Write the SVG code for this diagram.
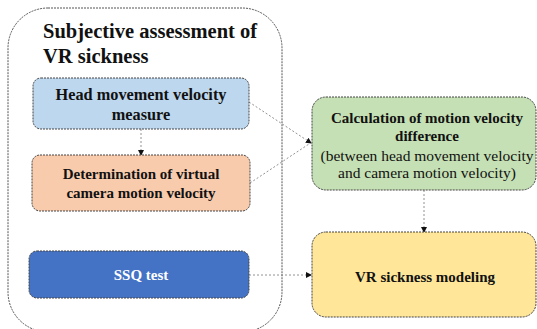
<svg xmlns="http://www.w3.org/2000/svg" width="537" height="329" viewBox="0 0 537 329">
<defs>
<marker id="ah" markerWidth="6" markerHeight="6" refX="5" refY="3" orient="auto" markerUnits="userSpaceOnUse">
<path d="M0,0 L6,3 L0,6 z" fill="#111"/>
</marker>
<style>
.box{stroke:#444;stroke-width:1;stroke-dasharray:2 1}
.lblb{font-family:'Liberation Serif',serif;font-weight:bold;font-size:15px;fill:#111;text-anchor:middle}
.lbln{font-family:'Liberation Serif',serif;font-size:15.5px;fill:#111;text-anchor:middle}
.c{fill:none;stroke:#777;stroke-width:0.8;stroke-dasharray:2 2}
.a{marker-end:url(#ah)}
</style>
</defs>
<rect width="537" height="329" fill="#fff"/>
<g id="container">
<rect x="8" y="8" width="274" height="324" rx="40" fill="none" stroke="#555" stroke-width="1" stroke-dasharray="2 1"/>
<text x="43" y="38" font-family="Liberation Serif, serif" font-weight="bold" font-size="20.5" fill="#111">Subjective assessment of</text>
<text x="43" y="63" font-family="Liberation Serif, serif" font-weight="bold" font-size="20.5" fill="#111">VR sickness</text>
</g>
<g id="connectors">
<line class="c a" x1="141" y1="129" x2="141" y2="155"/>
<line class="c a" x1="249" y1="102" x2="311" y2="143"/>
<line class="c" x1="250" y1="183" x2="309" y2="144"/>
<line class="c a" x1="424" y1="190" x2="424" y2="232"/>
<line class="c a" x1="249" y1="275" x2="311" y2="275"/>
</g>
<g id="head">
<rect class="box" x="33" y="78" width="216" height="51" rx="8" fill="#BDD7EE"/>
<text class="lblb" font-family="Liberation Serif, serif" x="141" y="100" style="font-size:16.3px">Head movement velocity</text>
<text class="lblb" font-family="Liberation Serif, serif" x="141" y="120" style="font-size:16.3px">measure</text>
</g>
<g id="camera">
<rect class="box" x="32" y="155" width="218" height="56" rx="8" fill="#F8CBAD"/>
<text class="lblb" font-family="Liberation Serif, serif" x="141" y="179">Determination of virtual</text>
<text class="lblb" font-family="Liberation Serif, serif" x="141" y="198">camera motion velocity</text>
</g>
<g id="ssq">
<rect class="box" x="29" y="251" width="220" height="47" rx="8" fill="#4472C4"/>
<text class="lblb" font-family="Liberation Serif, serif" x="141" y="280" style="fill:#fff">SSQ test</text>
</g>
<g id="calc">
<rect class="box" x="312" y="97" width="224" height="93" rx="14" fill="#C5E0B4"/>
<text class="lblb" font-family="Liberation Serif, serif" x="427" y="123">Calculation of motion velocity</text>
<text class="lblb" font-family="Liberation Serif, serif" x="427" y="141">difference</text>
<text class="lbln" font-family="Liberation Serif, serif" x="427" y="161">(between head movement velocity</text>
<text class="lbln" font-family="Liberation Serif, serif" x="427" y="178">and camera motion velocity)</text>
</g>
<g id="model">
<rect class="box" x="312" y="232" width="224" height="85" rx="14" fill="#FFE699"/>
<text class="lblb" font-family="Liberation Serif, serif" x="425" y="282">VR sickness modeling</text>
</g>
</svg>
